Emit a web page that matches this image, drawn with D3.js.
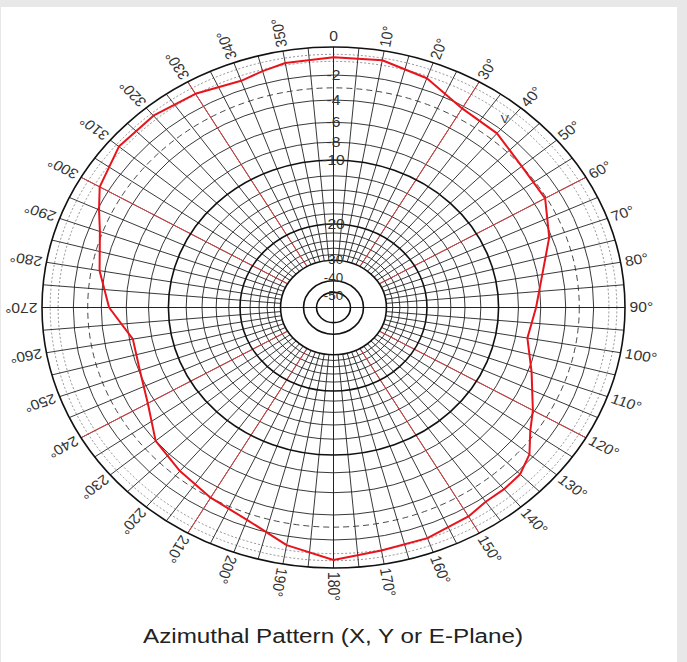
<!DOCTYPE html>
<html>
<head>
<meta charset="utf-8">
<script src="https://cdn.jsdelivr.net/npm/d3@7"></script>
<style>
  body { margin: 0; background: #e8e8e9; }
  svg { display: block; }
</style>
</head>
<body>
<script>
// radiation pattern (degrees clockwise from top, dB)
var angleDeg = [0, 10, 20, 30, 40, 50, 60, 70, 80, 90, 100, 110, 120, 125, 130, 135, 140, 145, 150,
  160, 170, 180, 190, 200, 210, 220, 230, 240, 250, 260, 270, 280, 290, 295, 300, 310, 320, 330, 340, 345, 350];
var gainDb = [-0.7, -0.65, -1.15, -2.2, -2.4, -3.0, -3.1, -4.2, -5.6, -6.4, -6.9, -5.7, -4.15, -3.4, -2.3, -1.75, -1.65, -1.65, -1.35,
  -1.05, -0.95, -0.55, -1.35, -2.5, -3.0, -3.5, -4.0, -5.4, -6.1, -6.3, -4.6, -3.6, -2.8, -2.1, -1.35, -0.7, -0.7, -0.95, -1.35, -1.1, -0.85];

// grid
var solidRings = [-2, -4, -6, -8, -12, -14, -16, -18, -22, -24, -26, -28];
var boldRings = [0, -10, -20, -30, -40, -50];
var dashRings = [-3];
var dotRings = [-0.5, -1];
var ringLabels = ['0', '-2', '-4', '-6', '-8', '-10', '-20', '-30', '-40', '-50'];
var redSpokes = [30, 60, 120, 150, 210, 240, 300, 330];
var angleTicks = d3.range(10, 360, 10);

var width = 687, height = 662;
var cx = 333.5, cy = 307.5, R = 260.5, sx = 291.5 / 260.5;

var svg = d3.select('body')
  .append('svg')
  .attr('width', width)
  .attr('height', height);

// paper
svg.append('rect')
  .attr('x', 1).attr('y', 7)
  .attr('width', 676).attr('height', height - 7)
  .attr('fill', '#fff');

// ARRL style log-periodic radius: 0.8925 per 2 dB
var lnR = d3.scaleLinear().domain([0, -2]).range([Math.log(R), Math.log(R * 0.8925)]);
function r(db) { return Math.exp(lnR(db)); }

var g = svg.append('g')
  .attr('transform', 'translate(' + cx + ',' + cy + ') scale(' + sx + ',1)');

function ring(list, w, dash, col) {
  g.selectAll(null)
    .data(list)
    .enter().append('circle')
    .attr('r', function(d) { return r(d); })
    .attr('fill', 'none')
    .attr('stroke', col)
    .attr('stroke-width', w)
    .attr('stroke-dasharray', dash)
    .attr('vector-effect', 'non-scaling-stroke');
}
ring(dotRings, 0.7, '2,2', '#666');
ring(dashRings, 0.9, '6,4', '#333');
ring(solidRings, 0.9, null, '#222');

// spokes every 5 deg from -30 dB ring outwards
var spokes = d3.range(0, 360, 5);
function rad(a) { return (a - 90) * Math.PI / 180; }
g.selectAll('line.spoke')
  .data(spokes)
  .enter().append('line')
  .attr('class', 'spoke')
  .attr('x1', function(d) { return r(-30) * Math.cos(rad(d)); })
  .attr('y1', function(d) { return r(-30) * Math.sin(rad(d)); })
  .attr('x2', function(d) { return R * Math.cos(rad(d)); })
  .attr('y2', function(d) { return R * Math.sin(rad(d)); })
  .attr('stroke', '#222')
  .attr('stroke-width', 0.9)
  .attr('vector-effect', 'non-scaling-stroke');

// full cross through centre
g.selectAll('line.cross')
  .data([0, 90])
  .enter().append('line')
  .attr('class', 'cross')
  .attr('x1', function(d) { return -R * Math.cos(rad(d)); })
  .attr('y1', function(d) { return -R * Math.sin(rad(d)); })
  .attr('x2', function(d) { return R * Math.cos(rad(d)); })
  .attr('y2', function(d) { return R * Math.sin(rad(d)); })
  .attr('stroke', '#222')
  .attr('stroke-width', 1)
  .attr('vector-effect', 'non-scaling-stroke');

g.selectAll('line.red')
  .data(redSpokes)
  .enter().append('line')
  .attr('class', 'red')
  .attr('x1', function(d) { return r(-30) * Math.cos(rad(d)); })
  .attr('y1', function(d) { return r(-30) * Math.sin(rad(d)); })
  .attr('x2', function(d) { return R * Math.cos(rad(d)); })
  .attr('y2', function(d) { return R * Math.sin(rad(d)); })
  .attr('stroke', '#e04040')
  .attr('stroke-width', 1)
  .attr('vector-effect', 'non-scaling-stroke');

ring(boldRings, 1.6, null, '#111');

// dB labels along the 0 deg line (inner ones nudged apart like the original)
function labelY(d) {
  if (d === '0') return -(R + 11);
  if (d === '-40') return -(r(-40) + 2.5);
  if (d === '-50') return -(r(-50) - 3);
  return -r(+d);
}
g.selectAll('text.db')
  .data(ringLabels)
  .enter().append('text')
  .attr('class', 'db')
  .attr('x', 0)
  .attr('y', labelY)
  .attr('text-anchor', 'middle')
  .attr('dominant-baseline', 'central')
  .attr('font-family', 'Liberation Sans, Arial, sans-serif')
  .attr('font-size', function(d) { return +d <= -30 ? 12 : 14; })
  .attr('fill', '#333')
  .text(function(d) { return d; });

// angle labels, baseline along the radius
g.selectAll('text.ang')
  .data(angleTicks)
  .enter().append('text')
  .attr('class', 'ang')
  .attr('transform', function(d) { return 'rotate(' + (d - 90) + ') translate(' + (R + 4) + ',0)'; })
  .attr('dominant-baseline', 'central')
  .attr('font-family', 'Liberation Sans, Arial, sans-serif')
  .attr('font-size', 14)
  .attr('fill', '#333')
  .text(function(d) { return d + '°'; });

// small marker near 40 deg
g.append('text')
  .attr('transform', 'rotate(-51) translate(' + r(-1.2) + ',0) rotate(51)')
  .attr('text-anchor', 'middle')
  .attr('dominant-baseline', 'central')
  .attr('font-family', 'Liberation Sans, Arial, sans-serif')
  .attr('font-size', 11)
  .attr('fill', '#333')
  .text('V');

// pattern
var pts = angleDeg.map(function(a, i) { return { a: a, g: gainDb[i] }; });
var pattern = d3.lineRadial()
  .angle(function(d) { return d.a * Math.PI / 180; })
  .radius(function(d) { return r(d.g); })
  .curve(d3.curveLinearClosed);

g.append('path')
  .attr('d', pattern(pts))
  .attr('fill', 'none')
  .attr('stroke', '#e8141c')
  .attr('stroke-width', 2)
  .attr('stroke-linejoin', 'round')
  .attr('vector-effect', 'non-scaling-stroke');

// title
svg.append('text')
  .attr('x', 333)
  .attr('y', 643)
  .attr('text-anchor', 'middle')
  .attr('font-family', 'Liberation Sans, Arial, sans-serif')
  .attr('font-size', 20)
  .attr('textLength', 380)
  .attr('lengthAdjust', 'spacingAndGlyphs')
  .attr('fill', '#222')
  .text('Azimuthal Pattern (X, Y or E-Plane)');
</script>
</body>
</html>
